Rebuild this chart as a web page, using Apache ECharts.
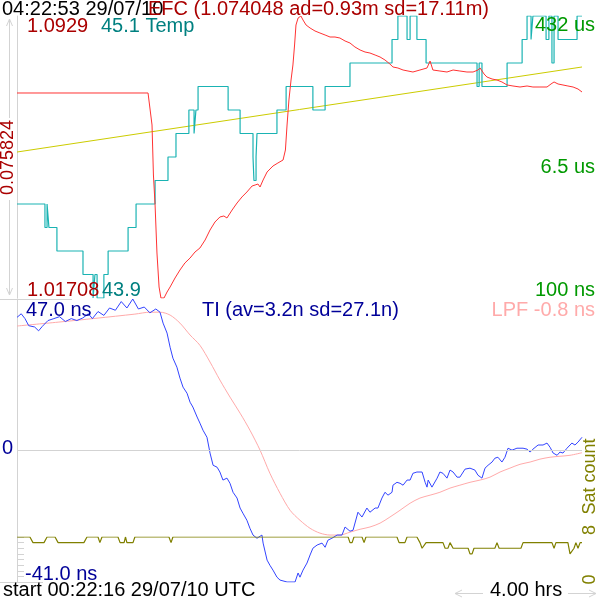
<!DOCTYPE html>
<html>
<head>
<meta charset="utf-8">
<script src="https://cdn.jsdelivr.net/npm/echarts@6/dist/echarts.min.js"></script>
<style>html,body{margin:0;padding:0;background:#fff}#c{width:600px;height:600px}</style>
</head>
<body>
<div id="c"></div>
<script>
// ---- data (time in minutes from start 00:22:16) ----
const efcT = [0,55.8,56.6,57.5,58.1,58.8,59.6,60.5,61.3,62.6,63.9,65.2,67.3,69.4,71.5,73.7,75.8,77.9,80.1,82.2,84.3,86.4,88.1,89.4,91.6,93.7,95.8,97.9,100.1,101.4,102.6,103.5,104.8,106.5,109.0,111.1,113.3,114.3,115.0,115.8,116.7,117.5,118.2,118.8,119.7,120.9,121.8,123.1,124.8,126.9,129.0,131.2,133.3,135.4,137.5,139.7,141.8,143.9,146.1,148.2,150.3,152.5,154.6,156.7,158.8,160.1,162.2,164.4,166.5,168.6,171.6,174.6,175.9,177.1,180.1,183.1,185.7,188.6,191.6,194.2,196.3,197.2,198.9,200.1,202.3,204.4,206.5,208.7,211.2,214.2,217.2,219.7,222.7,225.7,227.4,228.7,230.4,232.5,234.6,236.8,238.9,240.6];
const efcV = [1.07220,1.07220,1.07193,1.06359,1.05015,1.04208,1.02918,1.02004,1.01708,1.01708,1.01869,1.02004,1.02246,1.02461,1.02649,1.02783,1.02945,1.03052,1.03267,1.03536,1.03751,1.03886,1.03913,1.03859,1.04074,1.04262,1.04424,1.04558,1.04719,1.04746,1.04773,1.04692,1.04881,1.05096,1.05257,1.05338,1.05418,1.05687,1.06359,1.07032,1.07569,1.07973,1.08510,1.09048,1.09236,1.09290,1.09182,1.09048,1.08967,1.08887,1.08833,1.08779,1.08725,1.08725,1.08698,1.08618,1.08564,1.08457,1.08376,1.08322,1.08295,1.08241,1.08188,1.08107,1.07999,1.07919,1.07892,1.07838,1.07811,1.07784,1.07838,1.07892,1.08080,1.07838,1.07811,1.07784,1.07838,1.07811,1.07784,1.07784,1.07838,1.07892,1.07731,1.07650,1.07596,1.07569,1.07516,1.07435,1.07408,1.07381,1.07408,1.07381,1.07381,1.07381,1.07462,1.07516,1.07462,1.07435,1.07408,1.07381,1.07327,1.07247];

const trendT = [0, 240.6];
const trendV = [1.05633, 1.07919];

const tempT = [0,11.9,12.8,13.6,17.0,28.1,32.4,33.2,34.1,37.0,38.8,47.3,50.7,58.8,64.3,67.7,73.2,75.4,76.2,77.1,89.9,95.0,100.5,100.9,101.8,102.2,110.7,114.6,126.0,131.2,141.8,159.7,162.2,166.1,167.4,170.3,174.2,195.9,196.8,198.0,208.7,215.1,217.2,218.9,219.7,225.3,226.5,227.8,228.7,230.4,238.5,240.6];
const tempV = [44.3,44.2,44.3,44.2,44.1,44.0,43.9,44.0,43.9,44.0,44.1,44.2,44.3,44.4,44.5,44.6,44.7,44.6,44.7,44.8,44.7,44.6,44.5,44.4,44.5,44.6,44.7,44.8,44.7,44.8,44.9,45.0,45.1,45.0,45.1,45.0,44.9,44.8,44.9,44.8,44.9,45.0,45.1,45.0,45.1,45.0,45.1,44.9,45.1,45.0,45.1,45.1];

const tiT = [0,1.8,3.4,5.0,7.5,9.2,10.8,13.2,15.7,18.1,20.6,23.1,25.5,28.0,30.4,32.1,34.5,37.0,39.4,41.9,44.4,46.8,49.3,51.7,54.2,56.6,59.1,60.9,62.2,63.9,65.2,66.4,68.1,69.4,70.7,72.4,73.7,74.9,76.7,77.9,79.2,80.9,82.2,83.5,85.2,86.4,87.7,89.4,90.7,92.0,93.7,95.0,96.2,97.9,99.2,100.5,102.2,102.6,104.3,104.8,106.5,107.7,109.0,110.7,112.0,115.0,118.4,119.7,120.5,121.8,123.5,124.8,126.0,127.8,129.9,131.2,132.4,134.1,136.3,138.4,139.7,141.8,143.1,145.2,146.9,149.0,150.3,152.5,153.7,155.4,156.7,158.0,159.7,160.1,161.8,163.1,164.4,166.1,167.4,168.6,170.3,172.5,173.8,174.6,175.1,176.7,178.9,180.1,181.4,183.1,184.4,185.7,187.4,188.6,190.8,192.9,195.0,196.3,198.0,199.3,200.6,202.3,203.5,204.8,206.5,207.8,209.1,210.8,212.9,215.5,217.2,218.5,219.7,221.9,224.0,225.7,227.0,228.3,230.0,231.2,232.5,234.2,236.3,237.6,238.9,240.6];
const tiV = [41.3,42.4,40.9,38.7,38.3,37.1,38.5,40.3,40.9,41.5,40.0,40.9,40.3,41.1,42.4,40.9,43.1,41.9,44.2,43.5,46.2,44.2,47.0,43.9,44.5,42.7,43.9,42.9,39.5,36.4,32.0,28.6,25.8,22.4,19.6,17.7,14.9,13.4,10.3,8.4,6.2,4.0,-0.9,-4.7,-5.3,-6.8,-9.3,-8.7,-10.3,-13.1,-14.9,-18.0,-19.6,-21.8,-24.3,-26.4,-27.4,-28.0,-26.4,-28.9,-34.2,-35.8,-37.3,-39.5,-40.4,-41.0,-41.0,-38.2,-39.5,-37.3,-35.1,-32.6,-30.5,-29.5,-28.9,-30.2,-28.0,-27.4,-26.4,-26.4,-23.9,-25.2,-24.9,-19.3,-20.8,-18.0,-19.3,-18.0,-18.0,-14.9,-13.1,-14.0,-13.1,-10.9,-10.0,-10.3,-10.9,-9.3,-9.3,-7.2,-6.8,-6.8,-10.0,-11.5,-9.3,-11.5,-8.7,-6.8,-7.2,-8.7,-6.2,-6.8,-8.4,-8.4,-5.9,-5.6,-6.2,-7.8,-8.7,-5.6,-4.7,-3.7,-2.5,-2.2,-3.7,-2.2,0.6,0,0.6,0.6,0.3,-0.6,0.3,1.6,1.6,2.2,0.9,-0.9,-1.6,-0.6,-0.9,0.6,2.2,1.6,2.5,4.0];

const lpfT = [0,17.5,33.6,50.2,56.6,60.9,65.2,69.4,73.7,77.9,82.2,86.4,90.7,95.0,99.2,103.5,107.7,112.0,116.3,120.5,124.8,129.0,133.3,137.5,141.8,146.1,150.3,154.6,158.8,163.1,167.4,171.6,175.9,180.1,184.4,188.6,192.9,197.2,201.4,205.7,209.9,214.2,218.5,222.7,227.0,231.2,235.5,240.6];
const lpfV = [38.6,39.8,41.0,42.3,42.9,42.9,42.0,39.5,35.8,32.6,27.4,21.8,16.5,11.5,6.2,0,-7.2,-13.4,-18.7,-21.8,-24.3,-25.8,-26.4,-26.4,-25.5,-24.6,-23.9,-22.7,-20.8,-18.7,-16.5,-14.9,-14.0,-13.1,-11.8,-10.9,-10.0,-9.3,-8.4,-6.8,-5.6,-4.4,-3.7,-2.8,-2.2,-1.9,-1.6,-0.8];

const satT = [0,5.5,6.8,11.5,12.8,16.2,17.5,28.5,29.8,34.5,35.3,36.2,43.0,43.9,45.6,46.2,46.8,49.4,50.2,64.7,65.6,66.4,141.0,141.8,142.7,143.5,146.9,147.8,148.6,161.8,162.7,165.2,166.1,170.3,171.6,172.5,173.3,174.2,181.4,182.3,183.5,184.4,184.8,185.7,192.1,192.9,193.8,194.6,203.5,204.4,205.3,214.6,215.5,227.8,228.7,229.5,234.6,235.5,236.3,237.2,238.0,238.9,239.8,240.6];
const satV = [8,8,7,7,8,8,7,7,8,8,7,8,8,7,7,8,7,7,8,8,7,8,8,7,7,8,8,7,8,8,7,7,8,8,7,6,6,7,7,6,6,7,7,6,6,5,5,6,6,7,6,6,7,7,6,7,7,5,5,6,7,6,7,7];

// ---- texts ----
const headerTime = '04:22:53 29/07/10';
const efcTitle = 'EFC (1.074048 ad=0.93m sd=17.11m)';
const efcMaxLabel = '1.0929', efcMinLabel = '1.01708', efcSpanLabel = '0.075824';
const tempMaxLabel = '45.1 Temp', tempMinLabel = '43.9';
const adevLabels = ['432 us', '6.5 us', '100 ns'];
const tiTitle = 'TI (av=3.2n sd=27.1n)';
const tiMaxLabel = '47.0 ns', tiZeroLabel = '0', tiMinLabel = '-41.0 ns';
const lpfLabel = 'LPF -0.8 ns';
const satName = 'Sat count', satTickLabels = ['8', '0'];
const footerStart = 'start 00:22:16 29/07/10 UTC';
const spanLabel = '4.00 hrs';

const pair = (t, v) => t.map((x, i) => [x, v[i]]);

const FONT = '20px "Liberation Sans", Arial, sans-serif';
const RFONT = '18px "Liberation Sans", Arial, sans-serif';
const GRAY = '#d3d3d3';
const DRED = '#aa0000', TEAL = '#008080', GREEN = '#009900', NAVY = '#000099', PINK = '#ffaaaa', OLIVE = '#808000';

function txt(text, x, y, fill, align, rot) {
  return { type: 'text', x: x, y: y, rotation: rot || 0, z: 100,
    style: { text: text, x: 0, y: 0, fill: fill, font: rot ? RFONT : FONT,
      align: align || 'left', verticalAlign: 'middle' } };
}
function ln(x1, y1, x2, y2) {
  return { type: 'line', z: 50, shape: { x1, y1, x2, y2 }, style: { stroke: GRAY, lineWidth: 1 } };
}
function pl(points) {
  return { type: 'polyline', z: 50, shape: { points }, style: { stroke: GRAY, lineWidth: 1, fill: null } };
}

const chart = echarts.init(document.getElementById('c'), null, { renderer: 'canvas' });
const hiddenX = (g) => ({ type: 'value', gridIndex: g, min: 0, max: 240.6, show: false });
chart.setOption({
  animation: false,
  backgroundColor: '#ffffff',
  grid: [
    { left: 17, top: 16, width: 565, height: 282 },
    { left: 17, top: 299, width: 565, height: 283 },
    { left: 17, top: 537, width: 565, height: 45 }
  ],
  xAxis: [hiddenX(0), hiddenX(1), hiddenX(2)],
  yAxis: [
    { type: 'value', gridIndex: 0, min: 1.01708, max: 1.0929, position: 'left',
      axisLine: { show: true, lineStyle: { color: GRAY } }, axisTick: { show: false },
      axisLabel: { show: false }, splitLine: { show: false } },
    { type: 'value', gridIndex: 0, min: 43.9, max: 45.1, show: false },
    { type: 'value', gridIndex: 1, min: -41, max: 47, position: 'left',
      axisLine: { show: true, lineStyle: { color: GRAY } }, axisTick: { show: false },
      axisLabel: { show: false }, splitLine: { show: false } },
    { type: 'value', gridIndex: 2, min: 0, max: 8, interval: 1, position: 'right',
      axisLine: { show: false }, axisTick: { show: true, length: 7, lineStyle: { color: GRAY } },
      axisLabel: { show: false }, splitLine: { show: false } }
  ],
  series: [
    { type: 'line', name: 'trend', xAxisIndex: 0, yAxisIndex: 0, data: pair(trendT, trendV),
      symbol: 'none', lineStyle: { color: '#cccc00', width: 1 }, z: 2 },
    { type: 'line', name: 'Temp', xAxisIndex: 0, yAxisIndex: 1, data: pair(tempT, tempV), step: 'end',
      symbol: 'none', lineStyle: { color: '#1ab3b3', width: 1.2 }, z: 3 },
    { type: 'line', name: 'EFC', xAxisIndex: 0, yAxisIndex: 0, data: pair(efcT, efcV),
      symbol: 'none', lineStyle: { color: '#ff3333', width: 1 }, z: 4 },
    { type: 'line', name: 'LPF', xAxisIndex: 1, yAxisIndex: 2, data: pair(lpfT, lpfV), smooth: 0.3,
      symbol: 'none', lineStyle: { color: '#ffaaaa', width: 1 }, z: 3 },
    { type: 'line', name: 'TI', xAxisIndex: 1, yAxisIndex: 2, data: pair(tiT, tiV),
      symbol: 'none', lineStyle: { color: '#3344ff', width: 1 }, z: 4,
      markLine: { silent: true, symbol: 'none', label: { show: false },
        lineStyle: { color: GRAY, type: 'solid', width: 1 }, data: [{ yAxis: 0 }] } },
    { type: 'line', name: 'Sat', xAxisIndex: 2, yAxisIndex: 3, data: pair(satT, satV),
      symbol: 'none', lineStyle: { color: OLIVE, width: 1.2 }, z: 5 }
  ],
  graphic: [
    // separators and arrows
    ln(0, 299.5, 72, 299.5),
    ln(0, 582.5, 43, 582.5),
    ln(9.5, 19, 9.5, 118), ln(9.5, 200, 9.5, 295),
    pl([[6.5, 26], [9.5, 19], [12.5, 26]]),
    pl([[6.5, 288], [9.5, 295], [12.5, 288]]),
    ln(455, 593.5, 483, 593.5), pl([[462, 590], [455, 593.5], [462, 597]]),
    ln(568, 593.5, 596, 593.5), pl([[589, 590], [596, 593.5], [589, 597]]),
    // texts
    txt(headerTime, 2, 9, '#000000'),
    txt(efcTitle, 148, 9, DRED),
    txt(efcMaxLabel, 27, 26.5, DRED),
    txt(tempMaxLabel, 101, 26.5, TEAL),
    txt(adevLabels[0], 595, 25.5, GREEN, 'right'),
    txt(adevLabels[1], 595, 167, GREEN, 'right'),
    txt(adevLabels[2], 595, 290.5, GREEN, 'right'),
    txt(efcMinLabel, 27, 290.5, DRED),
    txt(tempMinLabel, 102, 290.5, TEAL),
    txt(tiMaxLabel, 26, 310, NAVY),
    txt(tiTitle, 202, 310, NAVY),
    txt(lpfLabel, 595, 310, PINK, 'right'),
    txt(tiZeroLabel, 2, 448.5, NAVY),
    txt(tiMinLabel, 25, 574.5, NAVY),
    txt(footerStart, 3, 590.5, '#000000'),
    txt(spanLabel, 490, 590.5, '#000000'),
    txt(efcSpanLabel, 8.5, 157.5, DRED, 'center', Math.PI / 2),
    txt(satName, 590, 476.5, OLIVE, 'center', Math.PI / 2),
    txt(satTickLabels[0], 590, 530, OLIVE, 'center', Math.PI / 2),
    txt(satTickLabels[1], 590, 579.5, OLIVE, 'center', Math.PI / 2)
  ]
});
</script>
</body>
</html>
